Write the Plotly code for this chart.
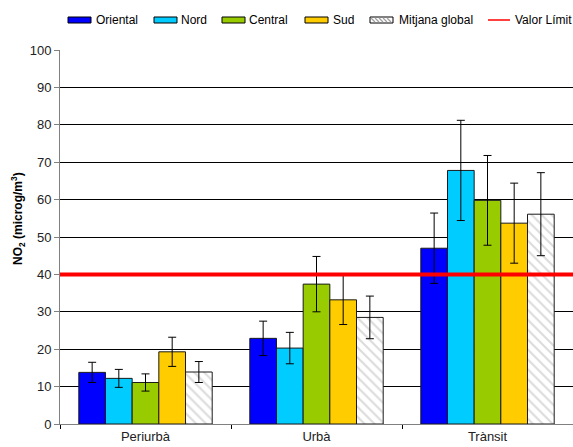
import plotly.graph_objects as go

# NO2 concentrations by station type and zone
categories = ["Periurbà", "Urbà", "Trànsit"]

oriental = [13.8, 22.9, 47.0]
nord = [12.2, 20.3, 67.8]
central = [11.1, 37.4, 59.8]
sud = [19.3, 33.2, 53.7]
mitjana = [13.9, 28.5, 56.1]

oriental_err = [2.7, 4.6, 9.4]
nord_err = [2.4, 4.2, 13.4]
central_err = [2.3, 7.4, 12.0]
sud_err = [3.9, 6.6, 10.7]
mitjana_err = [2.8, 5.7, 11.1]

limit_value = 40
y_ticks = [0, 10, 20, 30, 40, 50, 60, 70, 80, 90, 100]

W, H = 573, 447
ML, MR, MT, MB = 60, 0, 50, 23
PW, PH = W - ML - MR, H - MT - MB


def px_x(px):
    return (px - ML) / PW


def px_y(py):
    return (H - MB - py) / PH


series = [
    ("Oriental", oriental, oriental_err, "#0000ff"),
    ("Nord", nord, nord_err, "#00ccff"),
    ("Central", central, central_err, "#99cc00"),
    ("Sud", sud, sud_err, "#ffcc00"),
]

fig = go.Figure()
for name, vals, errs, color in series:
    fig.add_trace(go.Bar(
        name=name, x=categories, y=vals, showlegend=False,
        marker=dict(color=color, line=dict(color="#1a1a1a", width=1)),
        error_y=dict(type="data", array=errs, visible=True,
                     color="#000000", thickness=1, width=4),
    ))

fig.add_trace(go.Bar(
    name="Mitjana global", x=categories, y=mitjana, showlegend=False,
    marker=dict(color="#ffffff", line=dict(color="#1a1a1a", width=1),
                pattern=dict(shape="\\", fgcolor="#b8b8b8", bgcolor="#ffffff",
                             size=7, solidity=0.3)),
    error_y=dict(type="data", array=mitjana_err, visible=True,
                 color="#000000", thickness=1, width=4),
))

# limit value line across the plot
fig.add_shape(type="line", xref="paper", yref="y", x0=0, x1=1,
              y0=limit_value, y1=limit_value,
              line=dict(color="#ff0000", width=4), layer="above")

# legend row along the top
legend_items = [
    ("Oriental", "#0000ff", 68, 94),
    ("Nord", "#00ccff", 154, 179),
    ("Central", "#99cc00", 222, 247),
    ("Sud", "#ffcc00", 305, 331),
    ("Mitjana global", "#ffffff", 370, 397),
]
ly = 20
for label, color, sx, tx in legend_items:
    fig.add_shape(type="rect", xref="paper", yref="paper",
                  x0=px_x(sx), x1=px_x(sx + 23), y0=px_y(ly + 3), y1=px_y(ly - 3),
                  fillcolor=color, line=dict(color="#000000", width=1))
    if label == "Mitjana global":
        for hx in range(sx + 1, sx + 20, 4):
            fig.add_shape(type="line", xref="paper", yref="paper",
                          x0=px_x(hx), x1=px_x(hx + 4), y0=px_y(ly - 2), y1=px_y(ly + 2),
                          line=dict(color="#a0a0a0", width=1.2))
    fig.add_annotation(text=label, xref="paper", yref="paper", x=px_x(tx), y=px_y(ly),
                       xanchor="left", yanchor="middle", showarrow=False,
                       font=dict(size=12, color="#000000"))

fig.add_shape(type="line", xref="paper", yref="paper",
              x0=px_x(488), x1=px_x(510), y0=px_y(ly), y1=px_y(ly),
              line=dict(color="#ff0000", width=1.5))
fig.add_annotation(text="Valor Límit", xref="paper", yref="paper", x=px_x(513), y=px_y(ly),
                   xanchor="left", yanchor="middle", showarrow=False,
                   font=dict(size=12, color="#000000"))

# y-axis title
fig.add_annotation(text="<b>NO<sub>2</sub> (microg/m<sup>3</sup>)</b>",
                   xref="paper", yref="paper", x=px_x(18), y=px_y(219),
                   xanchor="center", yanchor="middle", textangle=-90,
                   showarrow=False, font=dict(size=12, color="#000000"))

font = "Liberation Sans, Arial, sans-serif"
fig.update_layout(
    width=W, height=H,
    margin=dict(l=ML, r=MR, t=MT, b=MB),
    paper_bgcolor="#ffffff", plot_bgcolor="#ffffff",
    barmode="group", bargap=0.22, bargroupgap=0,
    font=dict(family=font, size=12, color="#000000"),
    showlegend=False,
    yaxis=dict(range=[0, 100], tickvals=y_ticks, showgrid=True,
               gridcolor="#000000", gridwidth=1, zeroline=False,
               showline=True, linecolor="#808080", linewidth=1,
               ticks="outside", ticklen=5, tickcolor="#808080",
               tickfont=dict(size=13, color="#222222")),
    xaxis=dict(showline=True, linecolor="#808080", linewidth=1,
               ticks="outside", tickson="boundaries", ticklen=4,
               tickcolor="#000000", tickfont=dict(size=13, color="#222222")),
)

fig.write_html("out.html")
